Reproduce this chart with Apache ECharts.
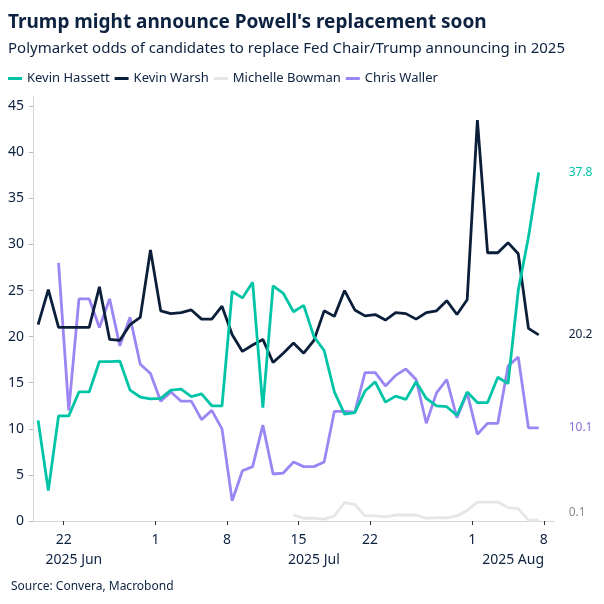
<!DOCTYPE html>
<html>
<head>
<meta charset="utf-8">
<script src="https://cdn.jsdelivr.net/npm/echarts@6/dist/echarts.min.js"></script>
<style>
html,body{margin:0;padding:0;background:#fff;}
#c{width:604px;height:604px;}
</style>
</head>
<body>
<div id="c"></div>
<script>
const startDay = [2025, 5, 19];
const hassett = [10.9,3.3,11.4,11.4,14.0,14.0,17.3,17.3,17.35,14.2,13.45,13.25,13.3,14.2,14.3,13.5,13.8,12.5,12.5,24.9,24.2,25.9,12.3,25.5,24.7,22.7,23.4,20.0,18.5,14.0,11.6,11.75,14.1,15.1,12.9,13.55,13.2,15.1,13.3,12.5,12.4,11.45,14.0,12.85,12.85,15.6,14.9,25.0,30.8,37.8];
const warsh = [21.3,25.1,21.0,21.0,21.0,21.0,25.4,19.7,19.6,21.3,22.1,29.4,22.8,22.5,22.6,22.9,21.9,21.9,23.3,20.2,18.4,19.1,19.7,17.2,18.2,19.3,18.2,19.6,22.8,22.2,25.0,22.9,22.25,22.4,21.8,22.6,22.5,21.9,22.6,22.8,23.9,22.4,24.0,43.5,29.1,29.1,30.2,29.0,20.9,20.2];
const bowman = [null,null,null,null,null,null,null,null,null,null,
  null,null,null,null,null,null,null,null,null,null,
  null,null,null,null,null,0.65,0.3,0.3,0.2,0.55,
  2.0,1.8,0.55,0.55,0.45,0.65,0.65,0.65,0.3,0.35,
  0.35,0.55,1.15,2.05,2.05,2.05,1.45,1.35,0.1,0.1];
const waller = [null,null,28.0,12.0,24.1,24.1,21.0,24.1,19.0,22.1,17.0,16.0,13.0,14.0,13.0,13.0,11.0,12.0,10.0,2.2,5.45,5.9,10.4,5.1,5.2,6.4,5.9,5.9,6.4,11.9,11.9,11.8,16.1,16.1,14.65,15.8,16.5,15.35,10.6,13.9,15.35,11.2,13.9,9.4,10.6,10.6,16.8,17.8,10.1,10.1];
const seriesNames = ['Kevin Hassett','Kevin Warsh','Michelle Bowman','Chris Waller'];
const seriesColors = ['#00c4a6','#0b1f3b','#e6e6e6','#9b86f4'];
const labelColors = ['#00c4a6','#0b1f3b','#8c8c8c','#8a6fd6'];
const yTicks = [0,5,10,15,20,25,30,35,40,45];
const xTickDays = [[2025,5,22],[2025,6,1],[2025,6,8],[2025,6,15],[2025,6,22],[2025,7,1],[2025,7,8]];
const monthLabels = [['2025 Jun',[2025,5,23,0]],['2025 Jul',[2025,6,16,12]],['2025 Aug',[2025,7,5,0]]];
const axisRange = [[2025,5,19],[2025,7,9]];

const DAY = 86400000;
const t0 = new Date(startDay[0], startDay[1], startDay[2], 12).getTime();
const toData = arr => arr.map((v,i)=>[t0 + i*DAY, v]);
const ts = d => new Date(d[0], d[1], d[2], d[3]||0).getTime();
const xTicks = xTickDays.map(ts);
const monthTicks = monthLabels.map(m=>ts(m[1]));
const xmin = ts(axisRange[0]), xmax = ts(axisRange[1]);
const textColor = '#0d2240';
const font = 'Noto Sans';

const raw = [hassett, warsh, bowman, waller];
const order = [2,3,1,0];
const series = order.map((k,j) => ({
  name: seriesNames[k],
  type: 'line',
  data: toData(raw[k]),
  showSymbol: false,
  symbol: 'none',
  connectNulls: false,
  lineStyle: {width: 2.8, color: seriesColors[k]},
  itemStyle: {color: seriesColors[k]},
  z: 2 + j,
  endLabel: {
    show: true,
    distance: 30,
    color: labelColors[k],
    fontFamily: font,
    fontSize: 12,
    offset: k===2 ? [0,-8] : [0,0],
    formatter: p => Number(p.value[1]).toFixed(1)
  },
  emphasis: {disabled: true}
}));

const chart = echarts.init(document.getElementById('c'), null, {renderer:'canvas'});
chart.setOption({
  animation: false,
  backgroundColor: '#fff',
  title: [
    {text: "Trump might announce Powell's replacement soon", left: 3, top: 8,
     textStyle: {fontFamily: font, fontWeight: 'bold', fontSize: 19, color: textColor}},
    {text: 'Polymarket odds of candidates to replace Fed Chair/Trump announcing in 2025', left: 3, top: 36,
     textStyle: {fontFamily: font, fontWeight: 'normal', fontSize: 15, color: textColor}},
    {text: 'Source: Convera, Macrobond', left: 6, top: 576,
     textStyle: {fontFamily: font, fontWeight: 'normal', fontSize: 12, color: textColor}}
  ],
  legend: {
    data: seriesNames,
    left: 3, top: 67,
    icon: 'rect', itemWidth: 14, itemHeight: 3, itemGap: 5,
    textStyle: {fontFamily: font, fontSize: 13, color: textColor},
    selectedMode: false
  },
  grid: {left: 33, right: 50, top: 97, bottom: 83, containLabel: false},
  xAxis: [
    {
      type: 'value', min: xmin, max: xmax,
      axisLine: {show: true, lineStyle: {color: '#d6d6d6', width: 1}},
      axisTick: {show: true, customValues: xTicks, length: 4, lineStyle: {color: '#333'}},
      axisLabel: {show: true, customValues: xTicks, margin: 12, fontFamily: font, fontSize: 14, color: textColor,
        formatter: v => String(new Date(v).getDate()), hideOverlap: false},
      splitLine: {show: false}
    },
    {
      type: 'value', min: xmin, max: xmax, position: 'bottom', offset: 20,
      axisLine: {show: false}, axisTick: {show: false},
      axisLabel: {show: true, customValues: monthTicks, margin: 12, fontFamily: font, fontSize: 14, color: textColor,
        formatter: v => { const i = monthTicks.indexOf(v); return i>=0 ? monthLabels[i][0] : ''; }, hideOverlap: false},
      splitLine: {show: false}
    }
  ],
  yAxis: {
    type: 'value', min: 0, max: 46,
    axisLine: {show: true, lineStyle: {color: '#d6d6d6', width: 1}},
    axisTick: {show: true, customValues: yTicks, length: 4, lineStyle: {color: '#bbb'}},
    axisLabel: {show: true, customValues: yTicks, margin: 9, fontFamily: font, fontSize: 14, color: textColor},
    splitLine: {show: false}
  },
  series: series
});
</script>
</body>
</html>
